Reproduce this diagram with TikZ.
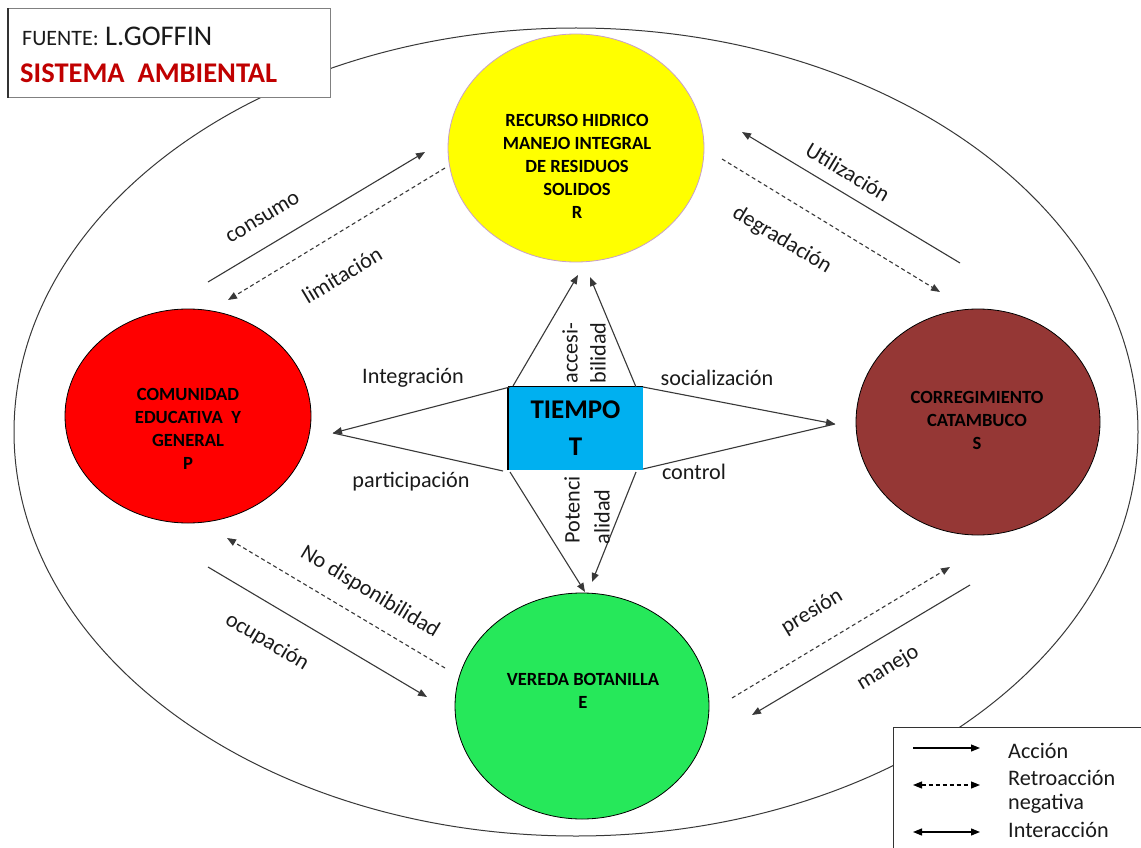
\documentclass[tikz,border=0pt]{standalone}
\usepackage{fontspec}
\setmainfont{Carlito}
\usetikzlibrary{shapes.geometric,arrows.meta}
\definecolor{yelc}{HTML}{FFFF00}
\definecolor{yeledge}{HTML}{C8A0C8}
\definecolor{redc}{HTML}{FF0000}
\definecolor{brownc}{HTML}{953735}
\definecolor{greenc}{HTML}{26E85A}
\definecolor{bluec}{HTML}{00B0F0}
\definecolor{darkredc}{HTML}{C00000}
\definecolor{linec}{HTML}{383838}
\definecolor{textc}{HTML}{1A1A1A}
\tikzset{
  bigcircle/.style={ellipse, draw=black, line width=0.8pt, inner sep=0pt},
  circtext/.style={align=center, font=\bfseries\fontsize{18.6}{23}\selectfont, inner sep=0pt},
  lbl/.style={font=\fontsize{22.2}{24}\selectfont, text=textc, inner sep=0pt},
  act/.style={draw=linec, line width=1.1pt, -{Triangle[length=9pt,width=7pt]}},
  plainln/.style={draw=linec, line width=1.1pt},
  retro/.style={draw=linec, line width=1.1pt, dash pattern=on 4pt off 3pt, -{Triangle[length=9pt,width=7pt]}},
  retroboth/.style={draw=linec, line width=1.1pt, dash pattern=on 4pt off 3pt, {Triangle[length=9pt,width=7pt]}-{Triangle[length=9pt,width=7pt]}},
  inter/.style={draw=black, line width=1.3pt, {Triangle[length=9pt,width=7pt]}-{Triangle[length=9pt,width=7pt]}},
}
\begin{document}
\begin{tikzpicture}[x=1pt,y=-1pt]
\useasboundingbox (0,0) rectangle (1141,848);
\fill[white] (0,0) rectangle (1141,848);

% outer system ellipse
\node[ellipse, draw=linec, line width=1pt, minimum width=1124pt, minimum height=808pt, inner sep=0pt] (sys) at (576,432) {};

% source box
\node[draw=gray, line width=1pt, fill=white, anchor=north west, minimum width=322pt, minimum height=89pt, inner sep=0pt] (src) at (8,8) {};
\draw[line width=1.3pt, black!80] (src.south west) -- (src.north west);
\node[anchor=base west, inner sep=0pt, text=textc] (fuente) at (22,46) {{\fontsize{22}{24}\selectfont FUENTE:}{\fontsize{28.5}{30}\selectfont\ L.GOFFIN}};
\node[anchor=base west, inner sep=0pt, text=darkredc, font=\bfseries\fontsize{28.5}{30}\selectfont] (sistema) at (20,83) {SISTEMA \ AMBIENTAL};

% circles
\node[bigcircle, fill=yelc, draw=yeledge, minimum width=256pt, minimum height=228pt] (R) at (576,148) {};
\node[circtext] (Rt) at (577,166) {RECURSO HIDRICO\\MANEJO INTEGRAL\\DE RESIDUOS\\SOLIDOS\\R};
\node[bigcircle, fill=redc, minimum width=246pt, minimum height=214pt] (P) at (188,416) {};
\node[circtext] (Pt) at (188,429) {COMUNIDAD\\EDUCATIVA \ Y\\GENERAL\\P};
\node[bigcircle, fill=brownc, minimum width=244pt, minimum height=226pt] (S) at (978,422) {};
\node[circtext] (St) at (977,420) {CORREGIMIENTO\\CATAMBUCO\\S};
\node[bigcircle, fill=greenc, minimum width=254pt, minimum height=226pt] (E) at (582,706) {};
\node[circtext] (Et) at (583,691) {VEREDA BOTANILLA\\E};

% TIEMPO box
\node[fill=bluec, minimum width=135pt, minimum height=83pt, inner sep=0pt] (T) at (575.5,428.5) {};
\draw[line width=1.6pt, black] (T.south west) -- (T.north west);
\draw[line width=0.9pt, black] (T.north west) -- (T.north east);
\node[align=center, font=\bfseries\fontsize{27}{37}\selectfont, inner sep=0pt] (Tt) at (575.5,428.5) {TIEMPO\\T};

% fan arrows from TIEMPO
\coordinate (uA) at (513,386); \coordinate (uAt) at (578,275);
\coordinate (uB) at (636,387); \coordinate (uBt) at (590,277);
\coordinate (lA) at (510,387); \coordinate (lB) at (503,471); \coordinate (lt) at (333,433);
\coordinate (rA) at (643,387); \coordinate (rB) at (643,469); \coordinate (rt) at (835,424);
\coordinate (dA) at (510,472); \coordinate (dAt) at (585,592);
\coordinate (dB) at (636,472); \coordinate (dBt) at (592,582);
\draw[act] (uA) -- (uAt);
\draw[act] (uB) -- (uBt);
\draw[plainln] (lB) -- (lt);
\draw[act] (lA) -- (lt);
\draw[plainln] (rB) -- (rt);
\draw[act] (rA) -- (rt);
\draw[act] (dA) -- (dAt);
\draw[act] (dB) -- (dBt);

\node[lbl, rotate=90] (acc1) at (570,353) {accesi-};
\node[lbl, rotate=90] (acc2) at (598,353) {bilidad};
\node[lbl, rotate=90] (pot1) at (572,510) {Potenci};
\node[lbl, rotate=90] (pot2) at (602,517) {alidad};
\node[lbl] (integ) at (413,378) {Integración};
\node[lbl] (partic) at (411,482) {participación};
\node[lbl] (social) at (717,378) {socialización};
\node[lbl] (control) at (694,472) {control};

% diagonal connectors
\coordinate (c1) at (208,282); \coordinate (c2) at (425,152);
\coordinate (l1) at (445,168); \coordinate (l2) at (228,300);
\coordinate (u1) at (960,263); \coordinate (u2) at (742,132);
\coordinate (g1) at (722,159); \coordinate (g2) at (940,292);
\coordinate (n1) at (445,668); \coordinate (n2) at (227,538);
\coordinate (o1) at (208,567); \coordinate (o2) at (427,697);
\coordinate (p1) at (732,698); \coordinate (p2) at (950,567);
\coordinate (m1) at (970,585); \coordinate (m2) at (752,715);
\draw[act] (c1) -- (c2);
\draw[retro] (l1) -- (l2);
\draw[act] (u1) -- (u2);
\draw[retro] (g1) -- (g2);
\draw[retro] (n1) -- (n2);
\draw[act] (o1) -- (o2);
\draw[retro] (p1) -- (p2);
\draw[act] (m1) -- (m2);
\node[lbl, rotate=31] (consumo) at (263,218) {consumo};
\node[lbl, rotate=31] (limit) at (342,275) {limitación};
\node[lbl, rotate=-31] (utiliz) at (848,172) {Utilización};
\node[lbl, rotate=-31] (degrad) at (782,240) {degradación};
\node[lbl, rotate=-31] (nodisp) at (370,592) {No disponibilidad};
\node[lbl, rotate=-31] (ocup) at (267,642) {ocupación};
\node[lbl, rotate=31] (presion) at (812,612) {presión};
\node[lbl, rotate=31] (manejo) at (888,668) {manejo};

% legend
\node[draw=black!80, line width=1.3pt, fill=white, anchor=north west, minimum width=260pt, minimum height=130pt, inner sep=0pt] (leg) at (893,727) {};
\coordinate (a1) at (913,748); \coordinate (a2) at (980,748);
\coordinate (b1) at (913,785); \coordinate (b2) at (980,785);
\coordinate (i1) at (913,832); \coordinate (i2) at (980,832);
\draw[act, draw=black] (a1) -- (a2);
\draw[retroboth, draw=black] (b1) -- (b2);
\draw[inter] (i1) -- (i2);
\node[lbl, anchor=west] (accion) at (1008,751) {Acción};
\node[lbl, anchor=west] (retrot) at (1008,778) {Retroacción};
\node[lbl, anchor=west] (negat) at (1008,804) {negativa};
\node[lbl, anchor=west] (interac) at (1008,830) {Interacción};
\end{tikzpicture}
\end{document}
